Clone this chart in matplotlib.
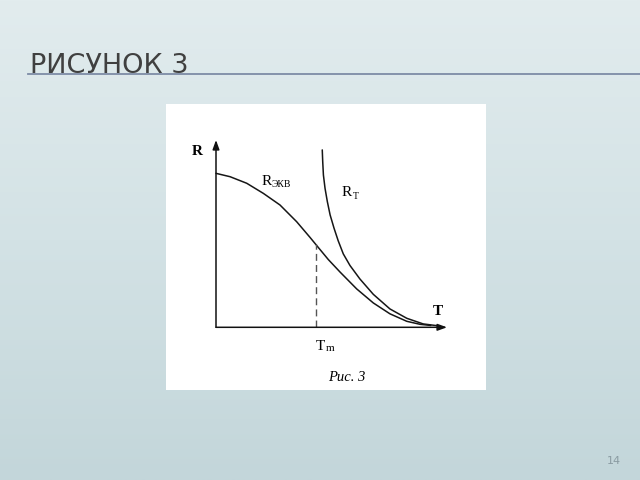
import numpy as np
import matplotlib
matplotlib.use("Agg")
import matplotlib.pyplot as plt
from matplotlib.lines import Line2D

# кривые (T и R в условных единицах)
T_EKV = [0.0, 0.61, 1.33, 2.05, 2.77, 3.49, 4.07, 4.31, 4.86, 5.37, 6.09, 6.81, 7.53, 8.26, 8.83, 9.3]
R_EKV = [8.22, 8.04, 7.69, 7.15, 6.53, 5.64, 4.80, 4.44, 3.62, 2.95, 2.05, 1.30, 0.72, 0.32, 0.16, 0.10]

T_T = [4.60, 4.62, 4.65, 4.72, 4.82, 4.94, 5.11, 5.29, 5.51, 5.80, 6.23, 6.81, 7.53, 8.26, 8.97, 9.55]
R_T = [9.47, 8.84, 8.13, 7.42, 6.71, 6.00, 5.29, 4.62, 3.92, 3.30, 2.58, 1.76, 0.98, 0.48, 0.18, 0.09]

T_M = 4.31
R_M = 4.44

TITLE = "РИСУНОК 3"
CAPTION = "Рис. 3"
PAGE = "14"

fig = plt.figure(figsize=(6.4, 4.8), dpi=100)

# фон слайда
bg = fig.add_axes([0, 0, 1, 1])
grad = np.linspace(0, 1, 256).reshape(-1, 1)
cmap = matplotlib.colors.LinearSegmentedColormap.from_list("bg", ["#e2ecee", "#d3e2e5", "#c3d6da"])
bg.imshow(grad, aspect="auto", cmap=cmap, extent=[0, 1, 0, 1], origin="upper")
bg.set_xlim(0, 1)
bg.set_ylim(0, 1)
bg.axis("off")

fig.text(30 / 640, 1 - 73 / 480, TITLE, family=["Liberation Sans Narrow", "DejaVu Sans"],
         fontsize=19.5, color="#404040", ha="left", va="baseline")
fig.add_artist(Line2D([28 / 640, 1.0], [1 - 73.5 / 480] * 2, transform=fig.transFigure,
                      color="#7d8ca6", lw=1.3))
fig.text(614 / 640, 1 - 461 / 480, PAGE, family="DejaVu Sans", fontsize=8,
         color="#8a9ba2", ha="center", va="center")

# белая вставка с графиком
x0, x1, y0, y1 = 166, 486, 104, 390
ax = fig.add_axes([x0 / 640, 1 - y1 / 480, (x1 - x0) / 640, (y1 - y0) / 480])
ax.set_facecolor("white")
sx, ox = 23.1, 216.0
sy, oy = 18.73, 327.3
ax.set_xlim((x0 - ox) / sx, (x1 - ox) / sx)
ax.set_ylim((oy - y1) / sy, (oy - y0) / sy)
ax.set_xticks([])
ax.set_yticks([])
for s in ax.spines.values():
    s.set_visible(False)

arrow = dict(arrowstyle="-|>,head_length=0.55,head_width=0.2", color="#111111", lw=1.1,
             shrinkA=0, shrinkB=0)
ax.annotate("", xy=(10, 0), xytext=(0, 0), arrowprops=arrow)
ax.annotate("", xy=(0, 10), xytext=(0, 0), arrowprops=arrow)

ax.plot(T_EKV, R_EKV, color="#161616", lw=1.1, solid_capstyle="round", solid_joinstyle="round")
ax.plot(T_T, R_T, color="#161616", lw=1.1, solid_capstyle="round", solid_joinstyle="round")
ax.plot([T_M, T_M], [0, R_M], color="#555555", lw=1.0, dashes=(5, 3))

serif = "Liberation Serif"
ax.text(-0.82, 9.36, "R", family=serif, fontsize=11, fontweight="bold", ha="center", va="center")
ax.text(9.6, 0.85, "T", family=serif, fontsize=11, fontweight="bold", ha="center", va="center")

ax.text(1.95, 7.8, "R", family=serif, fontsize=11, ha="left", va="center")
ax.text(2.41, 7.6, "ЭКВ", family=serif, fontsize=7, ha="left", va="center")
ax.text(5.45, 7.2, "R", family=serif, fontsize=11, ha="left", va="center")
ax.text(5.93, 7.0, "Т", family=serif, fontsize=7, ha="left", va="center")

ax.text(4.3, -1.0, "T", family=serif, fontsize=11, ha="left", va="center")
ax.text(4.77, -1.15, "m", family=serif, fontsize=8, ha="left", va="center")
ax.text(5.67, -2.7, CAPTION, family=serif, fontsize=10.5, style="italic", ha="center", va="center")

fig.savefig("out.png", dpi=100)
